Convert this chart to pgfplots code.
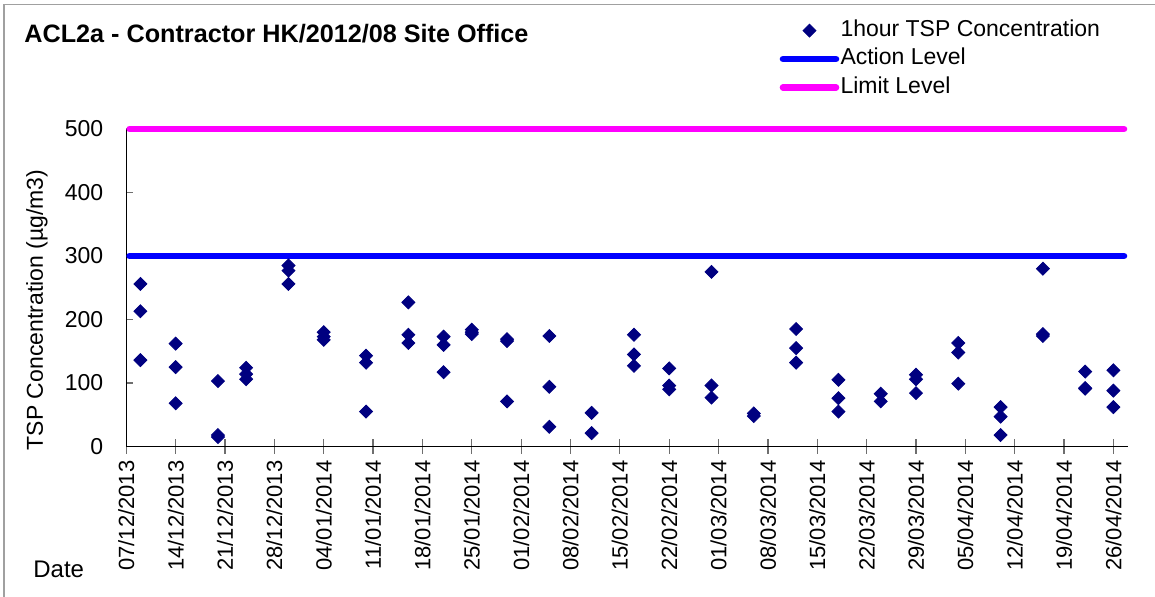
\documentclass[border=0pt]{standalone}
\usepackage{pgfplots}
\pgfplotsset{compat=1.18}
\usepackage{fontspec}
\setmainfont{Liberation Sans}
\definecolor{navy}{RGB}{0,0,128}
\definecolor{actblue}{RGB}{0,0,255}
\definecolor{limmag}{RGB}{255,0,255}
\definecolor{framegray}{RGB}{160,160,160}
\definecolor{tickgray}{RGB}{110,110,110}
\pgfplotstableread{
x y
2 256
2 213
2 136
7 162
7 125
7 68
13 103
13 18
13 15
17 124
17 114
17 106
23 285
23 277
23 256
28 180
28 173
28 168
34 143
34 132
34 55
40 227
40 176
40 163
45 173
45 160
45 117
49 184
49 180
49 177
54 169
54 166
54 71
60 174
60 94
60 31
66 53
66 21
72 176
72 145
72 127
77 123
77 96
77 90
83 275
83 96
83 77
89 52
89 48
95 185
95 155
95 132
101 105
101 76
101 55
107 83
107 71
112 113
112 106
112 84
118 163
118 148
118 99
124 62
124 47
124 18
130 280
130 177
130 174
136 118
136 92
136 91
140 120
140 88
140 62
}\tsp
\begin{document}
\begin{tikzpicture}
\begin{scope}[x=0.5pt,y=-0.5pt]
\useasboundingbox (0,0) rectangle (1155,597);
\draw[framegray, line width=0.75pt] (4,600) -- (4,4.5) -- (1160,4.5);
\node[anchor=base west, inner sep=0, font=\bfseries\fontsize{12.6}{14}\selectfont] at (24,43) {ACL2a - Contractor HK/2012/08 Site Office};
\node[anchor=base west, inner sep=0, font=\fontsize{12}{14}\selectfont] at (33,577) {Date};
\end{scope}
\begin{axis}[
  at={(63.15pt,-223.25pt)}, anchor=south west,
  scale only axis, width=500.6pt, height=158.75pt,
  xmin=0, xmax=142, ymin=0, ymax=500,
  axis x line*=bottom, axis y line*=left,
  axis line style={black, line width=0.65pt},
  clip=false,
  xtick={0,7,...,140},
  xticklabels={07/12/2013,14/12/2013,21/12/2013,28/12/2013,04/01/2014,11/01/2014,18/01/2014,25/01/2014,01/02/2014,08/02/2014,15/02/2014,22/02/2014,01/03/2014,08/03/2014,15/03/2014,22/03/2014,29/03/2014,05/04/2014,12/04/2014,19/04/2014,26/04/2014},
  xticklabel style={rotate=90, anchor=east, font=\fontsize{11}{13}\selectfont},
  ytick={0,100,...,500},
  yticklabel style={font=\fontsize{11.5}{13}\selectfont, xshift=-8pt},
  /pgf/number format/assume math mode=true,
  xtick align=center, ytick align=inside,
  major tick length=7pt,
  xtick style={tickgray, line width=0.6pt},
  ytick style={tickgray, line width=0.6pt, /pgfplots/major tick length=3.4pt},
  ylabel={TSP Concentration (µg/m3)},
  ylabel style={at={(axis description cs:-0.0892,0.43)}, anchor=center, font=\fontsize{11.5}{13}\selectfont},
  legend style={at={(axis description cs:0.6522,1.2205)}, anchor=west, draw=none, fill=none, inner sep=0pt,
    font=\fontsize{11.5}{13}\selectfont, row sep=2pt,
    nodes={inner sep=0.6pt, text height=8.5pt, text depth=2.5pt}},
  legend cell align=left,
  legend image code/.code={\draw[mark repeat=2,mark phase=2,#1] plot coordinates {(0pt,0pt)(13.25pt,0pt)(26.5pt,0pt)};},
]
\addplot[only marks, color=navy, mark=square*, mark size=2.3pt, mark options={rotate=45, fill=navy, draw=navy}] table[x=x,y=y] {\tsp};
\addlegendentry{1hour TSP Concentration}
\addplot[actblue, line width=3.3pt, line cap=round] coordinates {(0.47,300) (141.5,300)};
\addlegendentry{Action Level}
\addplot[limmag, line width=3.3pt, line cap=round] coordinates {(0.47,500) (141.5,500)};
\addlegendentry{Limit Level}
\end{axis}
\end{tikzpicture}
\end{document}
